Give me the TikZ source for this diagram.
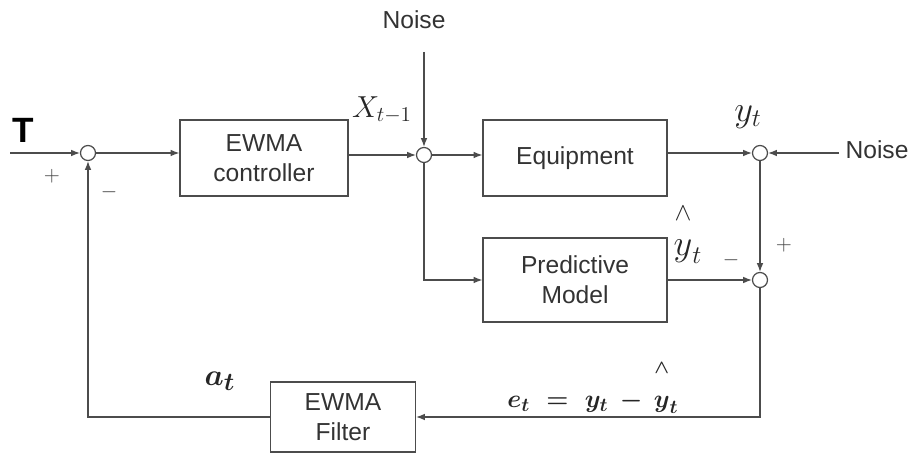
\documentclass[tikz,border=0pt]{standalone}
\usepackage{amsmath}
\usepackage{fontspec}
\setmainfont{Liberation Sans}
\usetikzlibrary{arrows.meta}

\begin{document}
\begin{tikzpicture}[x=0.2mm,y=0.2mm,line width=0.7pt,
  block/.style={draw=black!70,align=center,text=black!80,font=\fontsize{14}{17}\selectfont},
  sumpt/.style={circle,draw=black!70,fill=white,minimum size=3mm,inner sep=0pt},
  sig/.style={draw=black!70,-{Latex[length=5pt,width=3.8pt]}},
  sgn/.style={text=black!75,font=\fontsize{12}{14}\selectfont},
  mlab/.style={text=black!85,font=\fontsize{21}{23}\selectfont}]
  \useasboundingbox (0,0) rectangle (914,457);
  % blocks and summing points
  \node[sumpt] (s1) at (88,304) {};
  \node[block,minimum width=33.6mm,minimum height=15.2mm] (ctrl) at (264,299) {EWMA\\controller};
  \node[sumpt] (s2) at (424,302) {};
  \node[block,minimum width=36.8mm,minimum height=15.2mm] (equip) at (575,299) {Equipment};
  \node[sumpt] (s3) at (760,304) {};
  \node[block,minimum width=36.8mm,minimum height=16.8mm] (pred) at (575,177) {Predictive\\Model};
  \node[sumpt] (s4) at (760,177) {};
  \node[block,minimum width=29mm,minimum height=14mm] (filt) at (343,40) {EWMA\\Filter};
  % labels
  \node[text=black,font=\bfseries\fontsize{20}{22}\selectfont] (tlab) at (23,327) {T};
  \coordinate (tin) at (10,304);
  \node[sgn] (p1) at (52,281) {$+$};
  \node[sgn] (m1) at (109,265) {$-$};
  \node[block,draw=none] (n1) at (414,437) {Noise};
  \coordinate (n1end) at (424,405);
  \node[block,draw=none] (n2) at (877,307) {Noise};
  \node[mlab,font=\fontsize{17}{19}\selectfont] (xlab) at (382,347) {$X_{t-1}$};
  \node[mlab] (ylab) at (748,340) {$y_t$};
  \node[mlab] (yhlab) at (688,224) {$\overset{\wedge}{\rule{0pt}{0.75em}y}_t$};
  \node[sgn] (m2) at (731,197) {$-$};
  \node[sgn] (p2) at (784,212) {$+$};
  \node[mlab,font=\fontsize{19}{21}\selectfont\boldmath] (alab) at (220,76) {$a_t$};
  \node[mlab,font=\fontsize{15}{17}\selectfont\boldmath] (elab) at (593,70) {$e_t \;=\; y_t \,-\, \overset{\wedge}{\rule{0pt}{1.1em}y}_t$};
  % signals
  \draw[sig] (tin) -- (s1);
  \draw[sig] (s1) -- (s1 -| ctrl.west);
  \draw[sig] (ctrl.east |- s2) -- (s2);
  \draw[sig] (n1end) -- (s2);
  \draw[sig] (s2) -- (s2 -| equip.west);
  \draw[sig] (equip.east |- s3) -- (s3);
  \draw[sig] (n2.west |- s3) -- (s3);
  \draw[sig] (s2) |- (pred);
  \draw[sig] (pred) -- (s4);
  \draw[sig] (s3) -- (s4);
  \draw[sig] (s4) |- (filt);
  \draw[sig] (filt) -| (s1);
\end{tikzpicture}
\end{document}
